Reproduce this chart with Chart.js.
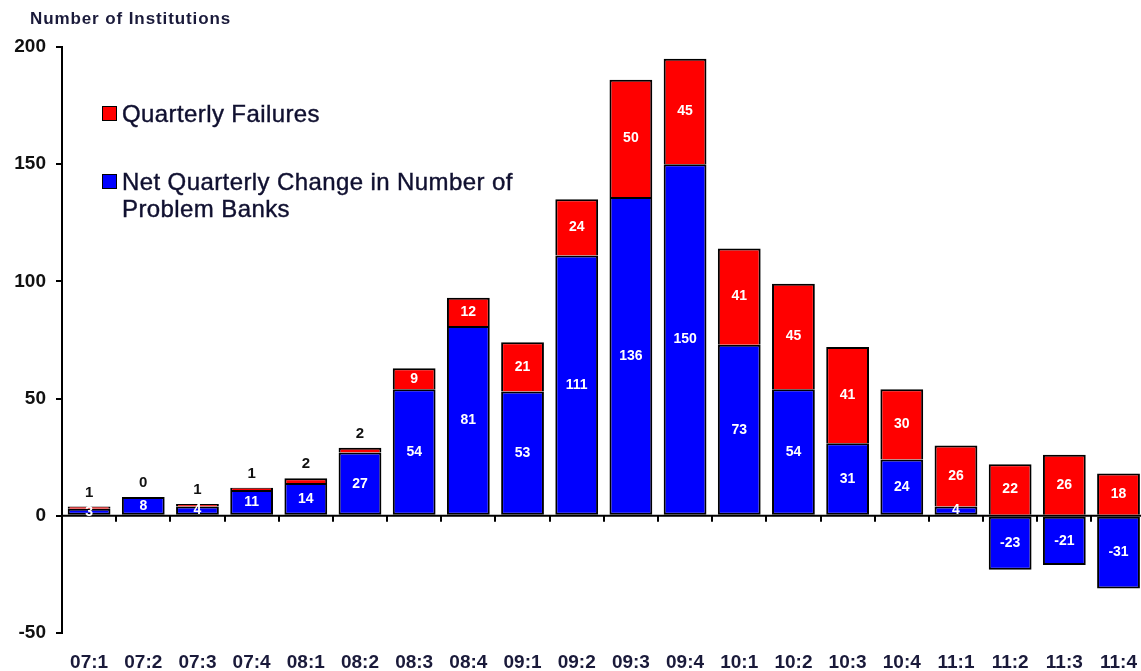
<!DOCTYPE html>
<html lang="en">
<head>
    <meta charset="UTF-8">
    <script src="https://cdn.jsdelivr.net/npm/chart.js@4.4.0/dist/chart.umd.min.js"></script>
    <title>Problem Banks and Failures</title>
    <style>
        html,body{margin:0; padding:0; background:#fff; overflow:hidden;}
        #wrap{position:relative; width:1147px; height:671px;}
        #title{position:absolute; left:30px; top:9px; font:bold 17px "Liberation Sans",Arial,sans-serif; color:#1a1a3a; letter-spacing:0.9px;}
        .leg{position:absolute; font:24px "Liberation Sans",Arial,sans-serif; color:#101030; line-height:27px; letter-spacing:0.4px; -webkit-text-stroke:0.4px #101030;}
        .leg i{position:absolute; left:-20px; top:6px; width:13px; height:13px; border:1px solid #000; -webkit-text-stroke:0;}
    </style>
    <script>
        // data
        const quarters = ['07:1','07:2','07:3','07:4','08:1','08:2','08:3','08:4','09:1','09:2',
                          '09:3','09:4','10:1','10:2','10:3','10:4','11:1','11:2','11:3','11:4']
        const netChange = [3, 8, 4, 11, 14, 27, 54, 81, 53, 111, 136, 150, 73, 54, 31, 24, 4, -23, -21, -31]
        const failures  = [1, 0, 1, 1, 2, 2, 9, 12, 21, 24, 50, 45, 41, 45, 41, 30, 26, 22, 26, 18]
        const yTicks = [-50, 0, 50, 100, 150, 200]
    </script>
</head>
<body>
    <div id="wrap">
        <canvas id="myChart" width="1147" height="671"></canvas>
        <div id="title">Number of Institutions</div>
        <div class="leg" style="left:122px; top:100px;"><i style="background:#ff0000"></i>Quarterly Failures</div>
        <div class="leg" style="left:122px; top:168px;"><i style="background:#0000ff"></i>Net Quarterly Change in Number of<br>Problem Banks</div>
    </div>
    <script>
        const FONT = '"Liberation Sans", Arial, sans-serif'

        // zero line with tick marks between categories
        const zeroLine = {
            id:'zeroLine',
            afterDatasetsDraw(chart){
                const ctx = chart.ctx
                const y = chart.scales.y
                const y0 = y.getPixelForValue(0)
                const w = (chart.chartArea.right - chart.chartArea.left) / quarters.length
                ctx.save()
                ctx.strokeStyle = '#000'
                ctx.lineWidth = 2
                ctx.beginPath()
                ctx.moveTo(chart.chartArea.left, y0)
                ctx.lineTo(chart.chartArea.right, y0)
                for(let i=1; i<=quarters.length; i++){
                    const px = Math.round(chart.chartArea.left + i*w)
                    ctx.moveTo(px, y0)
                    ctx.lineTo(px, y0+6)
                }
                ctx.stroke()
                ctx.restore()
            }
        }

        // value labels on the bars
        const barLabels = {
            id:'barLabels',
            afterDraw(chart){
                const ctx = chart.ctx
                ctx.save()
                ctx.textAlign = 'center'
                ctx.textBaseline = 'middle'
                const blue = chart.getDatasetMeta(0).data
                const red = chart.getDatasetMeta(1).data
                for(let i=0; i<quarters.length; i++){
                    const b = blue[i]
                    ctx.font = 'bold 14px ' + FONT
                    ctx.fillStyle = '#fff'
                    ctx.fillText(netChange[i], b.x, (b.y + b.base)/2)
                    const r = red[i]
                    const h = Math.abs(r.base - r.y)
                    if(h > 12){
                        ctx.fillText(failures[i], r.x, (r.y + r.base)/2)
                    }else{
                        ctx.font = 'bold 15px ' + FONT
                        ctx.fillStyle = '#111'
                        ctx.fillText(failures[i], r.x, Math.min(r.y, r.base) - 14)
                    }
                }
                ctx.restore()
            }
        }

        const ctx = document.getElementById('myChart').getContext('2d')
        const myChart = new Chart(ctx, {
            type:'bar',
            data:{
                labels:quarters,
                datasets:[{
                    label:'Net Quarterly Change in Number of Problem Banks',
                    data:netChange,
                    backgroundColor:'#0000ff',
                    borderColor:'#000',
                    borderWidth:2,
                    borderSkipped:false
                },{
                    label:'Quarterly Failures',
                    data:failures,
                    backgroundColor:'#ff0000',
                    borderColor:'#000',
                    borderWidth:2,
                    borderSkipped:'bottom'
                }]
            },
            options:{
                responsive:false,
                animation:false,
                layout:{padding:{top:47, right:0, left:0, bottom:0}},
                datasets:{bar:{barPercentage:0.79, categoryPercentage:1}},
                plugins:{
                    legend:{display:false},
                    tooltip:{enabled:false}
                },
                scales:{
                    x:{
                        stacked:true,
                        grid:{display:false},
                        border:{display:false},
                        ticks:{color:'#1a1a3a', font:{family:FONT, size:19, weight:'bold'}, padding:10, maxRotation:0, autoSkip:false},
                        afterFit(scale){ scale.height = 38 }
                    },
                    y:{
                        stacked:true,
                        min:-50,
                        max:200,
                        afterBuildTicks(scale){ scale.ticks = yTicks.map(v => ({value:v})) },
                        grid:{drawOnChartArea:false, drawTicks:true, tickLength:6, color:'#000', lineWidth:2},
                        border:{display:true, color:'#000', width:2},
                        ticks:{color:'#111', font:{family:FONT, size:19, weight:'bold'}, padding:10},
                        afterFit(scale){ scale.width = 62 }
                    }
                }
            },
            plugins:[zeroLine, barLabels]
        })
    </script>
</body>
</html>
